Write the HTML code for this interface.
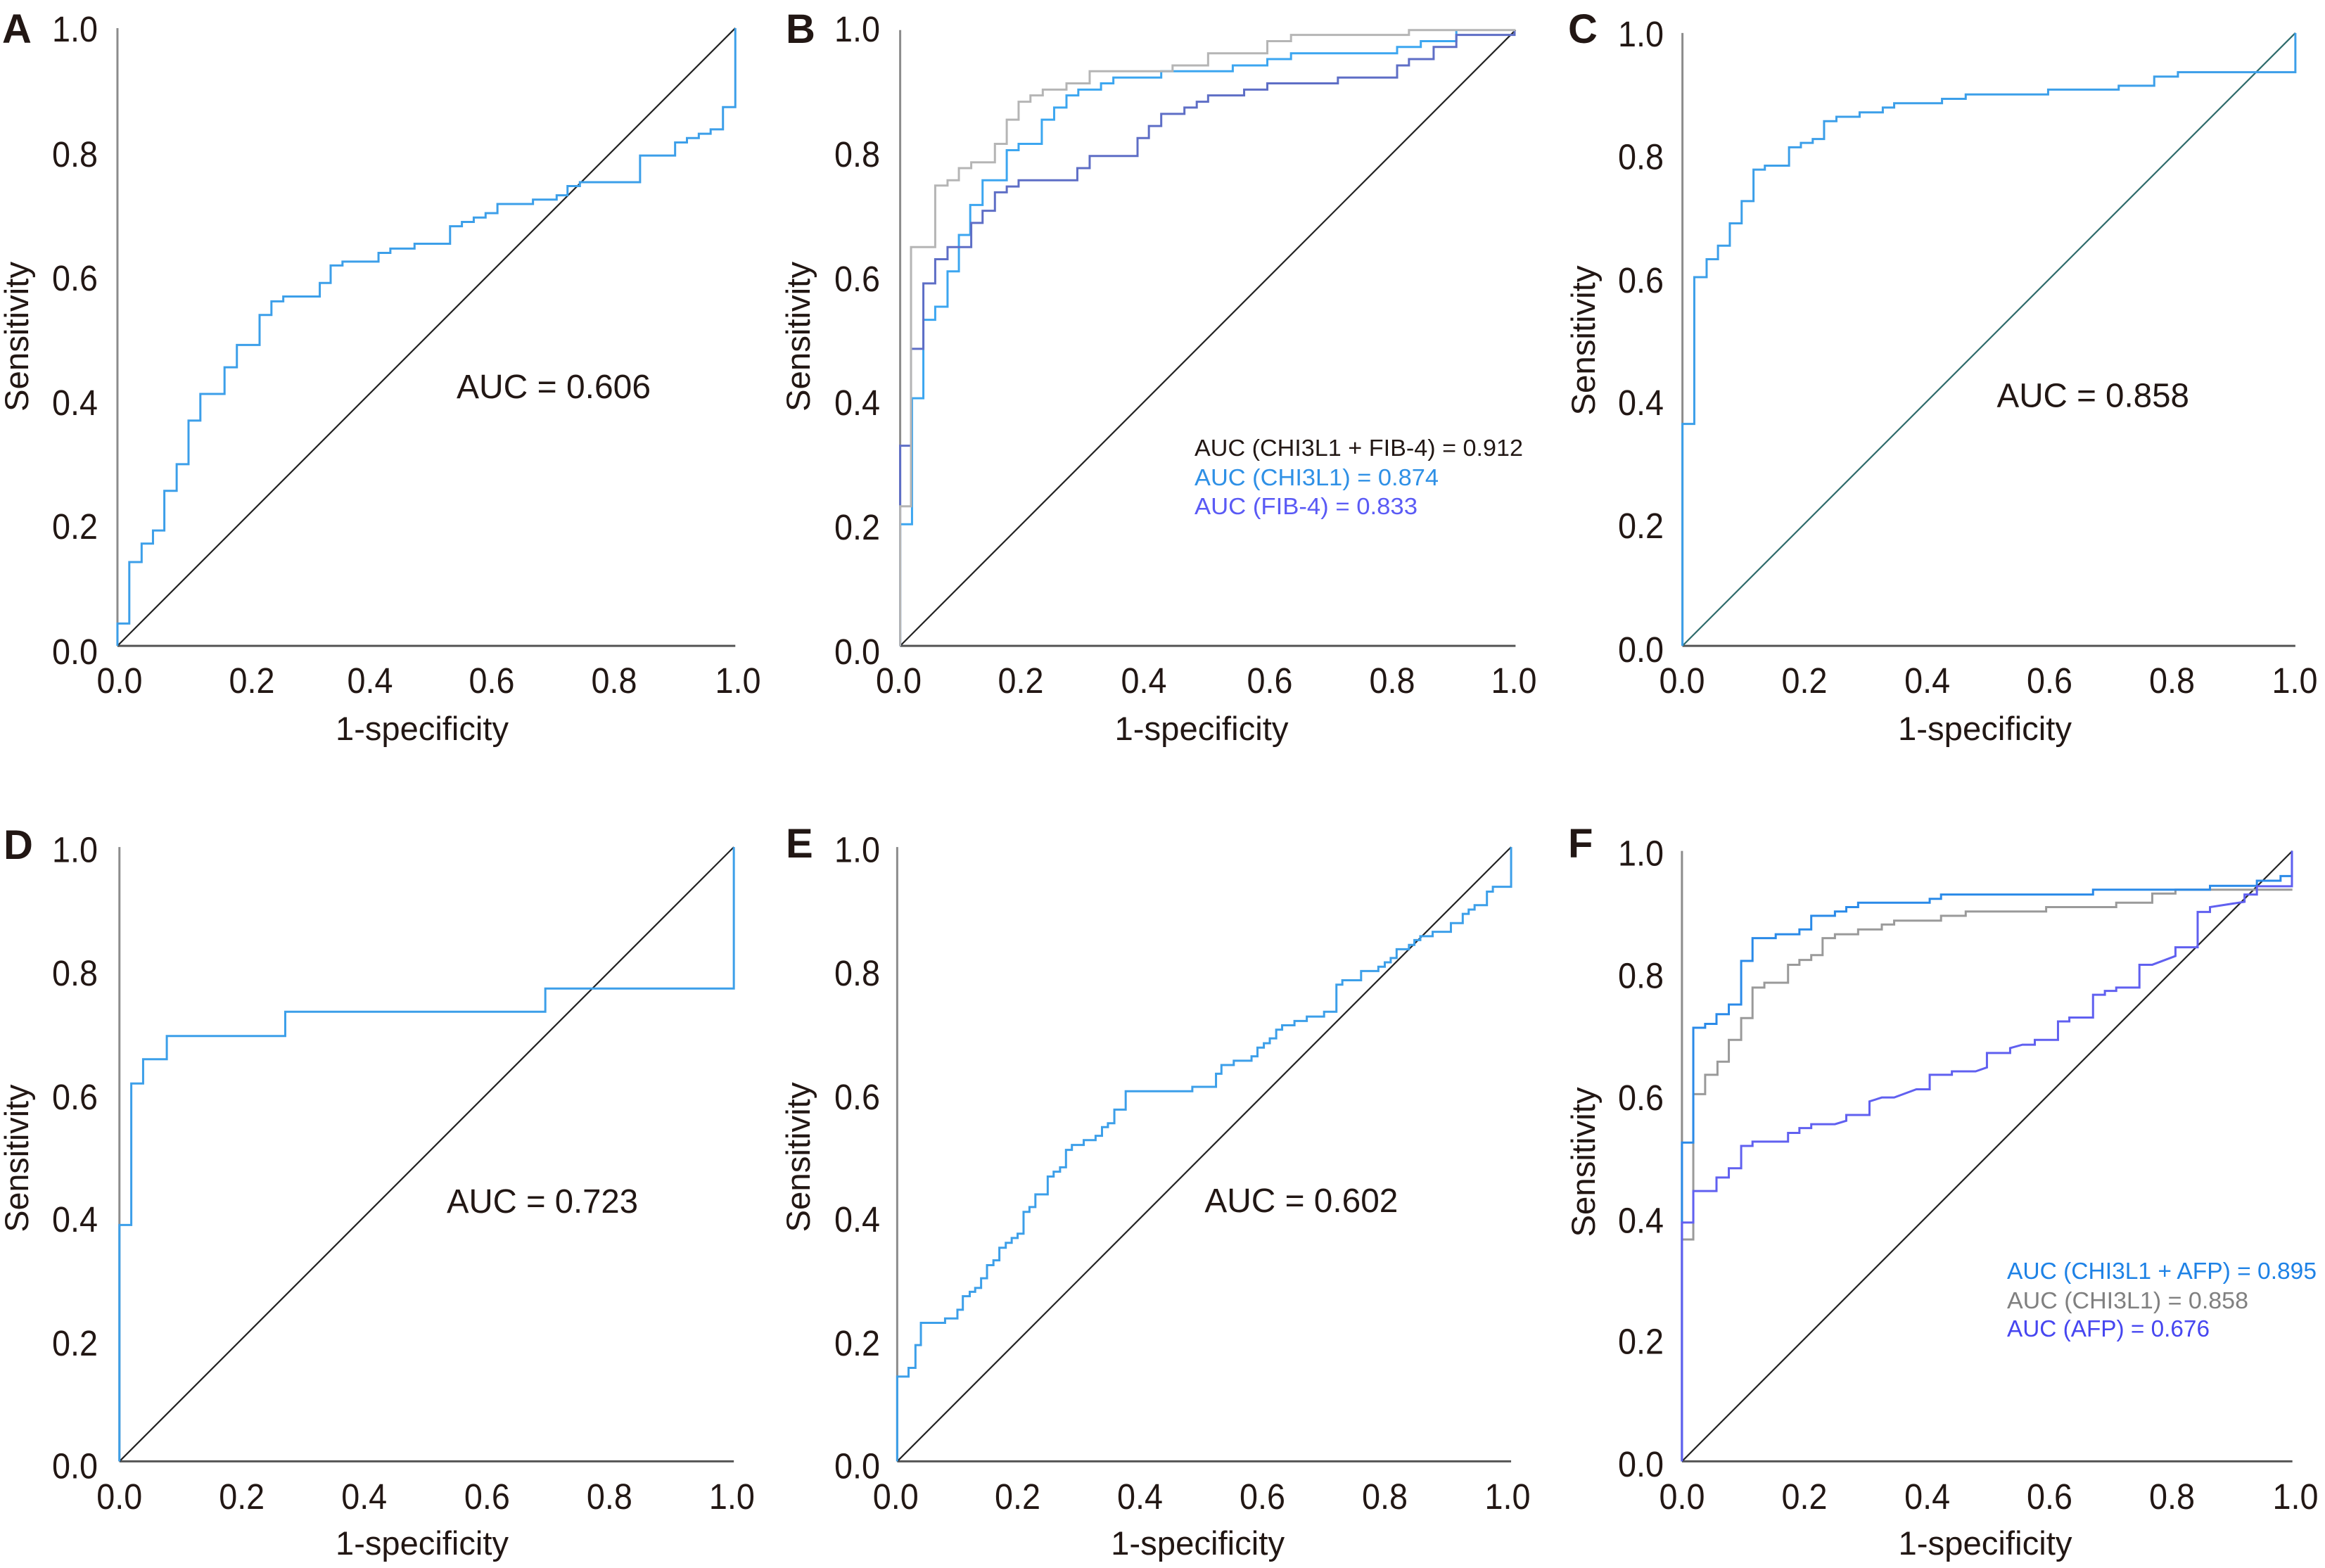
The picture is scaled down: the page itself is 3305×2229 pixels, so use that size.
<!DOCTYPE html>
<html><head><meta charset="utf-8"><style>
html,body{margin:0;padding:0;background:#fff;}
svg{display:block;}
text{font-family:"Liberation Sans",Arial,sans-serif;fill:#221714;}
.tk{font-size:51px;}
.lb{font-size:47px;}
.auc{font-size:48px;}
.lg{font-size:33px;}
.pl{font-size:58px;font-weight:bold;}
path{fill:none;vector-effect:non-scaling-stroke;stroke-linejoin:miter;stroke-linecap:butt;}
.ya{stroke:#8c8c8c;stroke-width:3;}
.xa{stroke:#555;stroke-width:3;}
.dg{stroke:#222;stroke-width:2.2;}
.bl{stroke:#3c9fe9;stroke-width:3;}
</style></head><body>
<svg width="3305" height="2229" viewBox="0 0 3305 2229" xmlns="http://www.w3.org/2000/svg">
<rect width="3305" height="2229" fill="#fff"/>

<!-- Panel A -->
<g transform="translate(0,0) scale(0.70151,0.68875)">
<path class="ya" d="M238 58 V1333"/>
<path class="xa" d="M238 1333 H1490"/>
<path class="dg" d="M238 1333 L1490 58"/>
<path class="bl" d="M238 1333 V1287 H262 V1160 H287 V1122 H310 V1095 H333 V1013 H358 V958 H382 V868 H406 V813 H455 V758 H480 V712 H526 V650 H550 V622 H574 V612 H648 V584 H670 V548 H694 V540 H767 V522 H791 V513 H840 V503 H912 V467 H936 V458 H960 V449 H984 V440 H1008 V421 H1080 V412 H1128 V403 H1150 V384 H1175 V376 H1297 V321 H1368 V294 H1392 V285 H1416 V276 H1440 V267 H1465 V221 H1490 V58"/>
</g>
<text class="pl" x="3" y="61">A</text>
<g class="tk" text-anchor="end">
<text x="139" y="59" textLength="65" lengthAdjust="spacingAndGlyphs">1.0</text>
<text x="139" y="237" textLength="65" lengthAdjust="spacingAndGlyphs">0.8</text>
<text x="139" y="413" textLength="65" lengthAdjust="spacingAndGlyphs">0.6</text>
<text x="139" y="590" textLength="65" lengthAdjust="spacingAndGlyphs">0.4</text>
<text x="139" y="766" textLength="65" lengthAdjust="spacingAndGlyphs">0.2</text>
<text x="139" y="944" textLength="65" lengthAdjust="spacingAndGlyphs">0.0</text>
</g>
<g class="tk" text-anchor="middle">
<text x="170" y="985" textLength="65" lengthAdjust="spacingAndGlyphs">0.0</text>
<text x="358" y="985" textLength="65" lengthAdjust="spacingAndGlyphs">0.2</text>
<text x="526" y="985" textLength="65" lengthAdjust="spacingAndGlyphs">0.4</text>
<text x="699" y="985" textLength="65" lengthAdjust="spacingAndGlyphs">0.6</text>
<text x="873" y="985" textLength="65" lengthAdjust="spacingAndGlyphs">0.8</text>
<text x="1049" y="985" textLength="65" lengthAdjust="spacingAndGlyphs">1.0</text>
</g>
<text class="lb" x="600" y="1052" text-anchor="middle" textLength="246" lengthAdjust="spacingAndGlyphs">1-specificity</text>
<text class="lb" transform="translate(40,478.5) rotate(-90)" text-anchor="middle" textLength="213" lengthAdjust="spacingAndGlyphs">Sensitivity</text>
<text class="auc" x="649" y="566" textLength="276" lengthAdjust="spacingAndGlyphs">AUC = 0.606</text>

<!-- Panel B -->
<g transform="translate(1100,0) scale(0.70151,0.68875)">
<path class="ya" d="M256 62 V1333"/>
<path class="xa" d="M256 1333 H1503"/>
<path class="dg" d="M256 1333 L1503 62"/>
<path style="stroke:#3ca6f0;stroke-width:3" d="M256 1333 V1082 H280 V822 H303 V660 H327 V633 H352 V560 H375 V485 H398 V423 H423 V372 H472 V310 H496 V297 H543 V247 H568 V222 H593 V197 H617 V185 H663 V172 H688 V160 H785 V147 H930 V135 H1000 V122 H1048 V110 H1263 V97 H1311 V85 H1383 V62"/>
<path style="stroke:#5e6ec6;stroke-width:3" d="M256 1333 V920 H278 V720 H303 V585 H327 V535 H352 V510 H400 V460 H423 V435 H448 V397 H472 V385 H496 V372 H615 V347 H640 V322 H737 V285 H760 V260 H785 V235 H832 V222 H857 V210 H880 V197 H953 V185 H1000 V172 H1143 V160 H1263 V135 H1287 V122 H1337 V97 H1383 V72 H1501 V62"/>
<path style="stroke:#b5b5b5;stroke-width:3" d="M256 1333 V1045 H278 V510 H327 V383 H352 V372 H375 V347 H400 V335 H448 V297 H472 V247 H496 V210 H520 V197 H545 V185 H593 V172 H640 V147 H808 V135 H880 V110 H1000 V85 H1048 V72 H1287 V62 H1503"/>
</g>
<text class="pl" x="1117" y="61">B</text>
<g class="tk" text-anchor="end">
<text x="1251" y="59" textLength="65" lengthAdjust="spacingAndGlyphs">1.0</text>
<text x="1251" y="237" textLength="65" lengthAdjust="spacingAndGlyphs">0.8</text>
<text x="1251" y="414" textLength="65" lengthAdjust="spacingAndGlyphs">0.6</text>
<text x="1251" y="590" textLength="65" lengthAdjust="spacingAndGlyphs">0.4</text>
<text x="1251" y="767" textLength="65" lengthAdjust="spacingAndGlyphs">0.2</text>
<text x="1251" y="944" textLength="65" lengthAdjust="spacingAndGlyphs">0.0</text>
</g>
<g class="tk" text-anchor="middle">
<text x="1277.5" y="985" textLength="65" lengthAdjust="spacingAndGlyphs">0.0</text>
<text x="1451" y="985" textLength="65" lengthAdjust="spacingAndGlyphs">0.2</text>
<text x="1626" y="985" textLength="65" lengthAdjust="spacingAndGlyphs">0.4</text>
<text x="1805" y="985" textLength="65" lengthAdjust="spacingAndGlyphs">0.6</text>
<text x="1979" y="985" textLength="65" lengthAdjust="spacingAndGlyphs">0.8</text>
<text x="2152" y="985" textLength="65" lengthAdjust="spacingAndGlyphs">1.0</text>
</g>
<text class="lb" x="1708" y="1052" text-anchor="middle" textLength="247" lengthAdjust="spacingAndGlyphs">1-specificity</text>
<text class="lb" transform="translate(1151,478.5) rotate(-90)" text-anchor="middle" textLength="213" lengthAdjust="spacingAndGlyphs">Sensitivity</text>
<text class="lg" x="1698" y="648" textLength="467" lengthAdjust="spacingAndGlyphs">AUC (CHI3L1 + FIB-4) = 0.912</text>
<text class="lg" x="1698" y="690" textLength="347" lengthAdjust="spacingAndGlyphs" style="fill:#2e90e6">AUC (CHI3L1) = 0.874</text>
<text class="lg" x="1698" y="731" textLength="317" lengthAdjust="spacingAndGlyphs" style="fill:#5a5af5">AUC (FIB-4) = 0.833</text>

<!-- Panel C -->
<g transform="translate(2205,0) scale(0.70151,0.68875)">
<path class="ya" d="M266 68 V1333"/>
<path class="xa" d="M266 1333 H1508"/>
<path style="stroke:#2e6b6b;stroke-width:2.2" d="M266 1333 L1508 68"/>
<path class="bl" d="M266 1333 V875 H290 V572 H315 V535 H338 V507 H362 V461 H386 V415 H410 V350 H433 V342 H482 V304 H506 V295 H530 V287 H553 V250 H578 V241 H625 V232 H672 V222 H695 V213 H792 V204 H840 V195 H1007 V185 H1150 V177 H1222 V158 H1270 V149 H1508 V68"/>
</g>
<text class="pl" x="2229" y="61">C</text>
<g class="tk" text-anchor="end">
<text x="2365" y="66" textLength="65" lengthAdjust="spacingAndGlyphs">1.0</text>
<text x="2365" y="240.5" textLength="65" lengthAdjust="spacingAndGlyphs">0.8</text>
<text x="2365" y="416" textLength="65" lengthAdjust="spacingAndGlyphs">0.6</text>
<text x="2365" y="590" textLength="65" lengthAdjust="spacingAndGlyphs">0.4</text>
<text x="2365" y="765" textLength="65" lengthAdjust="spacingAndGlyphs">0.2</text>
<text x="2365" y="941" textLength="65" lengthAdjust="spacingAndGlyphs">0.0</text>
</g>
<g class="tk" text-anchor="middle">
<text x="2391" y="985" textLength="65" lengthAdjust="spacingAndGlyphs">0.0</text>
<text x="2565" y="985" textLength="65" lengthAdjust="spacingAndGlyphs">0.2</text>
<text x="2739.6" y="985" textLength="65" lengthAdjust="spacingAndGlyphs">0.4</text>
<text x="2913.5" y="985" textLength="65" lengthAdjust="spacingAndGlyphs">0.6</text>
<text x="3087.5" y="985" textLength="65" lengthAdjust="spacingAndGlyphs">0.8</text>
<text x="3262" y="985" textLength="65" lengthAdjust="spacingAndGlyphs">1.0</text>
</g>
<text class="lb" x="2821.5" y="1052" text-anchor="middle" textLength="247" lengthAdjust="spacingAndGlyphs">1-specificity</text>
<text class="lb" transform="translate(2267,484) rotate(-90)" text-anchor="middle" textLength="213" lengthAdjust="spacingAndGlyphs">Sensitivity</text>
<text class="auc" x="2838.5" y="578.5" textLength="273.5" lengthAdjust="spacingAndGlyphs">AUC = 0.858</text>

<!-- Panel D -->
<g transform="translate(0,1149) scale(0.70151,0.68875)">
<path class="ya" d="M242 80 V1348"/>
<path class="xa" d="M242 1348 H1487"/>
<path class="dg" d="M242 1348 L1487 80"/>
<path class="bl" d="M242 1348 V860 H266 V568 H290 V518 H338 V470 H578 V420 H1105 V372 H1487 V80"/>
</g>
<text class="pl" x="5" y="1221">D</text>
<g class="tk" text-anchor="end">
<text x="139" y="1225.5" textLength="65" lengthAdjust="spacingAndGlyphs">1.0</text>
<text x="139" y="1401" textLength="65" lengthAdjust="spacingAndGlyphs">0.8</text>
<text x="139" y="1577" textLength="65" lengthAdjust="spacingAndGlyphs">0.6</text>
<text x="139" y="1751" textLength="65" lengthAdjust="spacingAndGlyphs">0.4</text>
<text x="139" y="1927" textLength="65" lengthAdjust="spacingAndGlyphs">0.2</text>
<text x="139" y="2101.6" textLength="65" lengthAdjust="spacingAndGlyphs">0.0</text>
</g>
<g class="tk" text-anchor="middle">
<text x="169.8" y="2145" textLength="65" lengthAdjust="spacingAndGlyphs">0.0</text>
<text x="343.7" y="2145" textLength="65" lengthAdjust="spacingAndGlyphs">0.2</text>
<text x="517.7" y="2145" textLength="65" lengthAdjust="spacingAndGlyphs">0.4</text>
<text x="692.4" y="2145" textLength="65" lengthAdjust="spacingAndGlyphs">0.6</text>
<text x="866.4" y="2145" textLength="65" lengthAdjust="spacingAndGlyphs">0.8</text>
<text x="1040.4" y="2145" textLength="65" lengthAdjust="spacingAndGlyphs">1.0</text>
</g>
<text class="lb" x="600" y="2210" text-anchor="middle" textLength="246" lengthAdjust="spacingAndGlyphs">1-specificity</text>
<text class="lb" transform="translate(40,1646.6) rotate(-90)" text-anchor="middle" textLength="210" lengthAdjust="spacingAndGlyphs">Sensitivity</text>
<text class="auc" x="635" y="1724" textLength="272" lengthAdjust="spacingAndGlyphs">AUC = 0.723</text>

<!-- Panel E -->
<g transform="translate(1100,1149) scale(0.70151,0.68875)">
<path class="ya" d="M250 80 V1348"/>
<path class="xa" d="M250 1348 H1494"/>
<path class="dg" d="M250 1348 L1494 80"/>
<path class="bl" d="M250 1348 V1173 H273 V1155 H287 V1108 H298 V1062 H347 V1053 H372 V1035 H383 V1007 H397 V998 H408 V990 H420 V970 H432 V943 H445 V933 H457 V907 H470 V897 H482 V887 H494 V878 H506 V833 H518 V823 H530 V797 H555 V760 H567 V750 H580 V741 H592 V705 H604 V695 H628 V685 H652 V676 H665 V658 H677 V650 H690 V622 H713 V584 H848 V575 H896 V548 H907 V530 H932 V521 H968 V512 H980 V494 H993 V485 H1005 V475 H1018 V457 H1030 V448 H1055 V439 H1080 V430 H1115 V420 H1140 V364 H1152 V355 H1190 V336 H1225 V327 H1238 V318 H1250 V309 H1262 V291 H1287 V282 H1298 V272 H1310 V264 H1335 V255 H1372 V237 H1396 V218 H1408 V209 H1420 V200 H1445 V172 H1457 V162 H1494 V80"/>
</g>
<text class="pl" x="1117" y="1219">E</text>
<g class="tk" text-anchor="end">
<text x="1251" y="1225.5" textLength="65" lengthAdjust="spacingAndGlyphs">1.0</text>
<text x="1251" y="1401" textLength="65" lengthAdjust="spacingAndGlyphs">0.8</text>
<text x="1251" y="1577" textLength="65" lengthAdjust="spacingAndGlyphs">0.6</text>
<text x="1251" y="1751" textLength="65" lengthAdjust="spacingAndGlyphs">0.4</text>
<text x="1251" y="1927" textLength="65" lengthAdjust="spacingAndGlyphs">0.2</text>
<text x="1251" y="2101.6" textLength="65" lengthAdjust="spacingAndGlyphs">0.0</text>
</g>
<g class="tk" text-anchor="middle">
<text x="1273.3" y="2145" textLength="65" lengthAdjust="spacingAndGlyphs">0.0</text>
<text x="1446.5" y="2145" textLength="65" lengthAdjust="spacingAndGlyphs">0.2</text>
<text x="1620.5" y="2145" textLength="65" lengthAdjust="spacingAndGlyphs">0.4</text>
<text x="1794.5" y="2145" textLength="65" lengthAdjust="spacingAndGlyphs">0.6</text>
<text x="1968.5" y="2145" textLength="65" lengthAdjust="spacingAndGlyphs">0.8</text>
<text x="2143" y="2145" textLength="65" lengthAdjust="spacingAndGlyphs">1.0</text>
</g>
<text class="lb" x="1702.6" y="2210" text-anchor="middle" textLength="247" lengthAdjust="spacingAndGlyphs">1-specificity</text>
<text class="lb" transform="translate(1151,1645) rotate(-90)" text-anchor="middle" textLength="213" lengthAdjust="spacingAndGlyphs">Sensitivity</text>
<text class="auc" x="1712.4" y="1723" textLength="275" lengthAdjust="spacingAndGlyphs">AUC = 0.602</text>

<!-- Panel F -->
<g transform="translate(2205,1149) scale(0.70151,0.68875)">
<path class="ya" d="M265 88 V1348"/>
<path class="xa" d="M265 1348 H1502"/>
<path class="dg" d="M265 1348 L1502 88"/>
<path style="stroke:#9a9a9a;stroke-width:3" d="M265 1348 V890 H288 V590 H312 V550 H337 V523 H360 V478 H385 V433 H408 V370 H432 V360 H480 V323 H503 V313 H527 V303 H550 V268 H575 V260 H622 V250 H670 V240 H695 V232 H790 V222 H840 V213 H1003 V204 H1145 V195 H1218 V176 H1265 V168 H1502"/>
<path style="stroke:#2a8ae8;stroke-width:3" d="M265 1348 V690 H288 V453 H312 V445 H335 V425 H360 V405 H385 V315 H408 V268 H455 V260 H503 V250 H527 V222 H575 V213 H598 V204 H622 V195 H767 V187 H790 V178 H1098 V168 H1335 V160 H1430 V149.5 H1478 V140 H1501 V88"/>
<path style="stroke:#6060f0;stroke-width:3" d="M265 1348 V855 H288 V790 H335 V762 H360 V743 H385 V697 H408 V688 H480 V670 H503 V660 H527 V652 H575 L598 645 V633 H645 V605 L670 597 H695 L740 580 H767 V550 H812 V543 L860 543 L883 535 V505 H930 V495 L955 488 H980 V478 H1027 V440 H1050 V432 H1098 V385 H1122 V377 H1145 V370 H1192 V323 H1218 L1265 305 V287 H1310 V214 H1335 V204 L1405 193 V178 H1430 V161 H1501 V88"/>
</g>
<text class="pl" x="2229" y="1219">F</text>
<g class="tk" text-anchor="end">
<text x="2365" y="1230.4" textLength="65" lengthAdjust="spacingAndGlyphs">1.0</text>
<text x="2365" y="1404.6" textLength="65" lengthAdjust="spacingAndGlyphs">0.8</text>
<text x="2365" y="1578.2" textLength="65" lengthAdjust="spacingAndGlyphs">0.6</text>
<text x="2365" y="1752.4" textLength="65" lengthAdjust="spacingAndGlyphs">0.4</text>
<text x="2365" y="1924.6" textLength="65" lengthAdjust="spacingAndGlyphs">0.2</text>
<text x="2365" y="2098.9" textLength="65" lengthAdjust="spacingAndGlyphs">0.0</text>
</g>
<g class="tk" text-anchor="middle">
<text x="2391" y="2145" textLength="65" lengthAdjust="spacingAndGlyphs">0.0</text>
<text x="2565" y="2145" textLength="65" lengthAdjust="spacingAndGlyphs">0.2</text>
<text x="2739.6" y="2145" textLength="65" lengthAdjust="spacingAndGlyphs">0.4</text>
<text x="2913.5" y="2145" textLength="65" lengthAdjust="spacingAndGlyphs">0.6</text>
<text x="3087.5" y="2145" textLength="65" lengthAdjust="spacingAndGlyphs">0.8</text>
<text x="3263" y="2145" textLength="65" lengthAdjust="spacingAndGlyphs">1.0</text>
</g>
<text class="lb" x="2822" y="2210" text-anchor="middle" textLength="247" lengthAdjust="spacingAndGlyphs">1-specificity</text>
<text class="lb" transform="translate(2267,1652) rotate(-90)" text-anchor="middle" textLength="213" lengthAdjust="spacingAndGlyphs">Sensitivity</text>
<text class="lg" x="2853" y="1818" textLength="440" lengthAdjust="spacingAndGlyphs" style="fill:#1e82e6">AUC (CHI3L1 + AFP) = 0.895</text>
<text class="lg" x="2853" y="1860" textLength="343" lengthAdjust="spacingAndGlyphs" style="fill:#808080">AUC (CHI3L1) = 0.858</text>
<text class="lg" x="2853" y="1900" textLength="288" lengthAdjust="spacingAndGlyphs" style="fill:#4646f0">AUC (AFP) = 0.676</text>
</svg>
</body></html>
